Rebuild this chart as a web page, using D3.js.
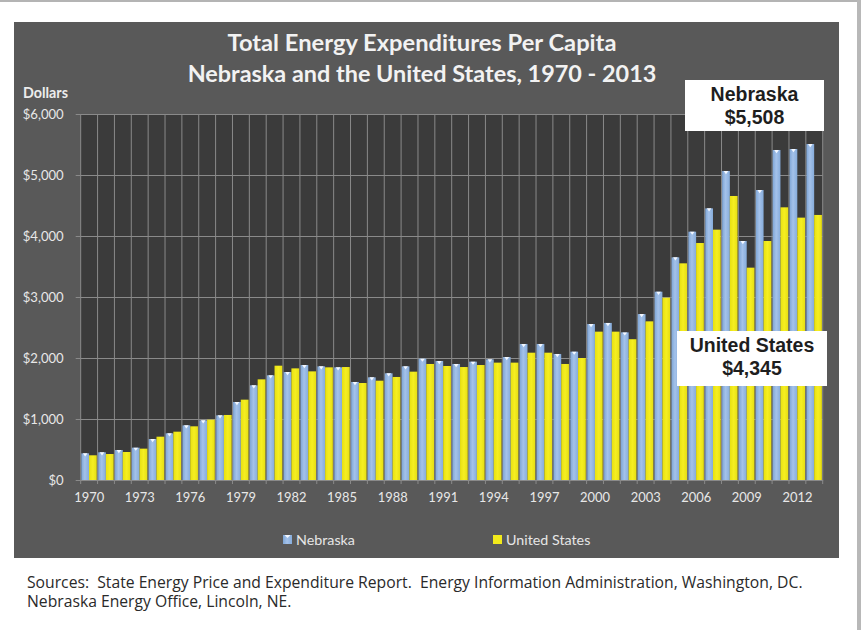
<!DOCTYPE html>
<html>
<head>
<meta charset="utf-8">
<script src="https://cdn.jsdelivr.net/npm/d3@7"></script>
<style>
html,body{margin:0;padding:0;background:#fff;}
svg{display:block;}
</style>
</head>
<body>
<svg id="chart" width="861" height="630"></svg>
<script>
const years = d3.range(1970, 2014);
const nebraska = [437,454,492,530,672,765,896,978,1060,1279,1552,1716,1770,1885,1863,1847,1607,1683,1749,1863,1989,1951,1902,1940,1978,2016,2230,2230,2066,2104,2557,2575,2420,2720,3087,3650,4071,4453,5066,3918,4754,5410,5426,5508];
const unitedStates = [405,426,459,514,710,792,880,989,1066,1317,1650,1874,1830,1781,1847,1852,1590,1628,1689,1776,1902,1869,1852,1885,1924,1924,2087,2087,1902,2000,2432,2432,2308,2601,2989,3552,3885,4104,4656,3481,3918,4470,4301,4345];
const yTicks = [0,1000,2000,3000,4000,5000,6000];
const xLabelYears = [1970,1973,1976,1979,1982,1985,1988,1991,1994,1997,2000,2003,2006,2009,2012];
const seriesNames = ["Nebraska","United States"];
const titleLines = ["Total Energy Expenditures Per Capita","Nebraska and the United States, 1970 - 2013"];
const sourceLines = ["Sources:  State Energy Price and Expenditure Report.  Energy Information Administration, Washington, DC.","Nebraska Energy Office, Lincoln, NE."];
const callouts = [{lines:["Nebraska","$5,508"]},{lines:["United States","$4,345"]}];

(function(){
const svg = d3.select("#chart");
const defs = svg.append("defs");
const gb = defs.append("linearGradient").attr("id","gBlue").attr("x1","0").attr("x2","1").attr("y1","0").attr("y2","0");
gb.append("stop").attr("offset","0").attr("stop-color","#7fa6d6");
gb.append("stop").attr("offset","0.45").attr("stop-color","#a4c2ea");
gb.append("stop").attr("offset","1").attr("stop-color","#86acdb");
const gy = defs.append("linearGradient").attr("id","gYel").attr("x1","0").attr("x2","1").attr("y1","0").attr("y2","0");
gy.append("stop").attr("offset","0").attr("stop-color","#e8e010");
gy.append("stop").attr("offset","0.5").attr("stop-color","#f5ee22");
gy.append("stop").attr("offset","1").attr("stop-color","#e6de12");

const sans = "Lato, 'Open Sans', sans-serif";
function sizeFor(text, weight, target, family){
  const t = svg.append("text").style("white-space","pre").style("font-family",family||sans).style("font-weight",weight).style("font-size","20px").text(text);
  const w = t.node().getComputedTextLength();
  t.remove();
  return (20*target/w).toFixed(2)+"px";
}

// outer frame
svg.append("rect").attr("x",0).attr("y",0).attr("width",861).attr("height",2).attr("fill","#b4b4b4");
svg.append("rect").attr("x",857).attr("y",0).attr("width",4).attr("height",630).attr("fill","#b8b8b8");

// panel
svg.append("rect").attr("x",14).attr("y",22).attr("width",825).attr("height",536).attr("fill","#595959");

const pLeft = 80.7, pRight = 822.7, pTop = 114, pBottom = 480;
const x = d3.scaleBand().domain(years).range([pLeft,pRight]).padding(0);
const y = d3.scaleLinear().domain([0,6000]).range([pBottom,pTop]);
const sub = d3.scaleBand().domain(seriesNames).range([0.6, x.bandwidth()-0.8]).padding(0);

// plot bg
svg.append("rect").attr("x",pLeft).attr("y",pTop).attr("width",pRight-pLeft).attr("height",pBottom-pTop).attr("fill","#3b3b3b");

// grid
const grid = svg.append("g").attr("stroke","#8a8a8a").attr("stroke-width",1);
grid.selectAll("line.h").data(yTicks).join("line").attr("class","h")
  .attr("x1",pLeft).attr("x2",pRight).attr("y1",d=>Math.round(y(d))+0.5).attr("y2",d=>Math.round(y(d))+0.5);
const bounds = years.map(d=>x(d)).concat([pRight]);
grid.selectAll("line.v").data(bounds).join("line").attr("class","v")
  .attr("x1",d=>d).attr("x2",d=>d).attr("y1",pTop).attr("y2",pBottom);

// bars
const bars = svg.append("g");
const data = years.map((yr,i)=>({yr, vals:[nebraska[i], unitedStates[i]]}));
const grp = bars.selectAll("g").data(data).join("g").attr("transform",d=>`translate(${x(d.yr)},0)`);
grp.append("rect").attr("x",sub("Nebraska")).attr("width",sub.bandwidth())
  .attr("y",d=>y(d.vals[0])).attr("height",d=>y(0)-y(d.vals[0])).attr("fill","url(#gBlue)");
grp.append("path").attr("d",d=>{
  const x0 = sub("Nebraska"), w = sub.bandwidth(), yt = y(d.vals[0]);
  return `M${x0+w*0.2},${yt}L${x0+w*0.8},${yt}L${x0+w*0.5},${yt+3.2}Z`;
}).attr("fill","#f4f8ff");
grp.append("rect").attr("x",sub("United States")).attr("width",sub.bandwidth())
  .attr("y",d=>y(d.vals[1])).attr("height",d=>y(0)-y(d.vals[1])).attr("fill","url(#gYel)");

// axes
const xfs = sizeFor("1970","normal",30);
const xAxis = d3.axisBottom(x).tickValues(xLabelYears).tickSize(0).tickPadding(13);
const gx = svg.append("g").attr("transform",`translate(0,${pBottom})`).call(xAxis);
gx.attr("font-size",null).attr("font-family",null);
gx.select(".domain").attr("stroke","#8a8a8a");
gx.selectAll("text").attr("fill","#e8e8e8").style("font-family",sans).style("font-size",xfs);
svg.append("g").attr("stroke","#8a8a8a").selectAll("line").data(bounds).join("line")
  .attr("x1",d=>d).attr("x2",d=>d).attr("y1",pBottom).attr("y2",pBottom+4);

const yfs = sizeFor("$6,000","normal",41);
const yAxis = d3.axisLeft(y).tickValues(yTicks).tickSize(5).tickPadding(12).tickFormat(d=>"$"+d3.format(",")(d));
const gyx = svg.append("g").attr("transform",`translate(${pLeft},0)`).call(yAxis);
gyx.attr("font-size",null).attr("font-family",null);
gyx.select(".domain").remove();
gyx.selectAll("line").attr("stroke","#8a8a8a");
gyx.selectAll("text").attr("fill","#e8e8e8").style("font-family",sans).style("font-size",yfs);

svg.append("text").attr("x",23).attr("y",97.5).text("Dollars").attr("fill","#ececec")
  .style("font-family",sans).style("font-weight","bold").style("font-size",sizeFor("Dollars","bold",45));

// title
const titleTarget = [389,469];
svg.append("g").selectAll("text").data(titleLines).join("text")
  .attr("x",422).attr("y",(d,i)=>51+i*31).attr("text-anchor","middle").attr("fill","#f2f2f2")
  .style("font-family",sans).style("font-weight","bold")
  .style("font-size",(d,i)=>sizeFor(d,"bold",titleTarget[i])).text(d=>d);

// legend
const lg = svg.append("g");
const legendPos = [{x:283,fill:"url(#gBlue)"},{x:493,fill:"#f2ea1b"}];
const lfs = sizeFor("Nebraska","normal",59);
seriesNames.forEach((s,i)=>{
  lg.append("rect").attr("x",legendPos[i].x).attr("y",535).attr("width",9).attr("height",9).attr("fill",legendPos[i].fill);
  if(i===0) lg.append("path").attr("d",`M${legendPos[i].x+1.5},535L${legendPos[i].x+7.5},535L${legendPos[i].x+4.5},538Z`).attr("fill","#f4f8ff");
  lg.append("text").attr("x",legendPos[i].x+13).attr("y",545).text(s).attr("fill","#e6e6e6")
    .style("font-family",sans).style("font-size",lfs);
});

// callouts
const boxes = [{x:685,y:80,w:139,h:51,cx:754.5},{x:677,y:331,w:150,h:55,cx:752}];
callouts.forEach((c,i)=>{
  const b = boxes[i];
  svg.append("rect").attr("x",b.x).attr("y",b.y).attr("width",b.w).attr("height",b.h).attr("fill","#ffffff");
  c.lines.forEach((t,j)=>{
    svg.append("text").attr("x",b.cx).attr("y",b.y+21+j*23).attr("text-anchor","middle").text(t)
      .attr("fill","#1e1e1e").style("font-family","'Liberation Sans', Arial, sans-serif").style("font-weight","bold").style("font-size","19.5px");
  });
});

// sources
const sfs = sizeFor(sourceLines[0],"normal",776,"'Open Sans', sans-serif");
svg.append("g").selectAll("text").data(sourceLines).join("text")
  .attr("x",27).attr("y",(d,i)=>587.5+i*19.5).attr("fill","#2a2a2a")
  .style("white-space","pre")
  .style("font-family","'Open Sans', sans-serif").style("font-size",sfs).text(d=>d);
})();
</script>
</body>
</html>
